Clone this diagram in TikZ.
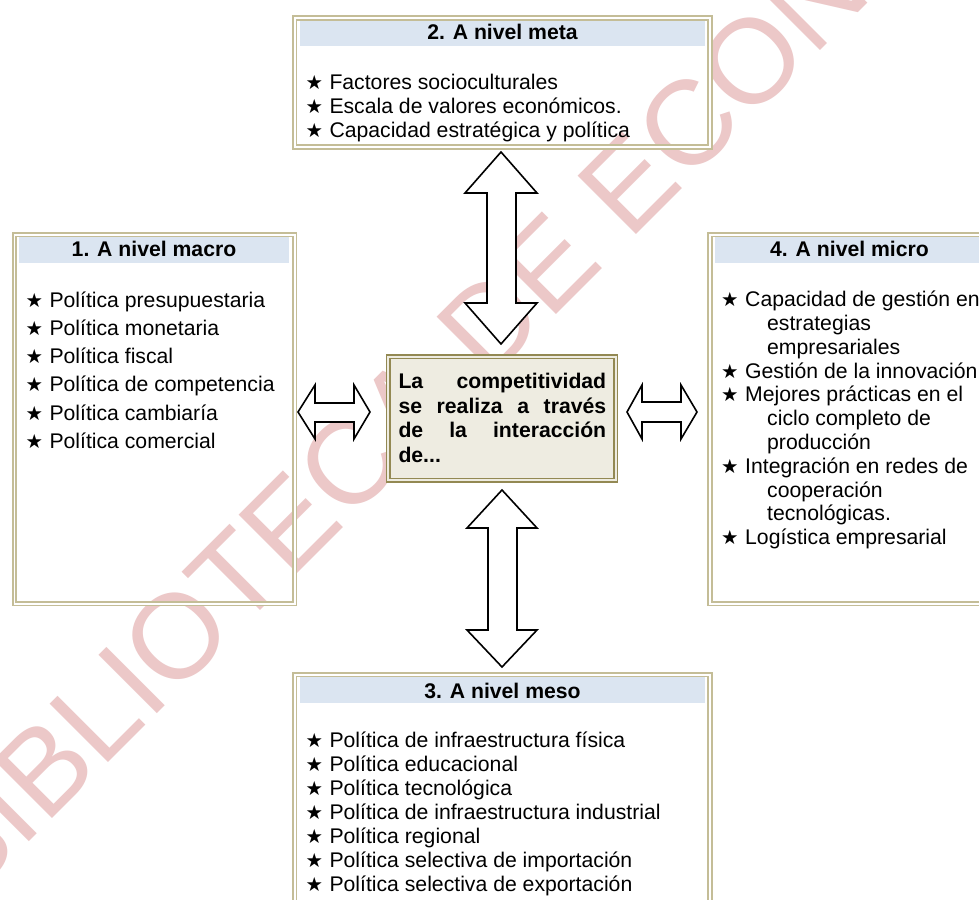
\documentclass[tikz,border=0pt]{standalone}
\usepackage{fontspec}
\setmainfont{Liberation Sans}
\newfontfamily\symfont{DejaVu Sans}
\definecolor{tanline}{RGB}{196,189,151}
\definecolor{bandblue}{RGB}{219,229,241}
\definecolor{oliveline}{RGB}{147,137,83}
\definecolor{cfill}{RGB}{238,236,225}
\definecolor{wmpink}{RGB}{236,200,200}
\newcommand\itemfont{\fontsize{21.2}{24}\selectfont}
\newcommand\ttlfont{\fontsize{21.2}{24}\selectfont\bfseries}
\newcommand\starfont{\symfont\fontsize{19.5}{19.5}\selectfont}
\newcommand\wmfont{\fontsize{120}{120}\selectfont}
\begin{document}
\begin{tikzpicture}[x=1pt,y=-1pt,
  dbox/.style={draw=tanline, double=white, double distance=1.9pt, line width=1.6pt,
    inner sep=0pt, outer sep=0pt, anchor=north west, rectangle},
  cbox/.style={draw=oliveline, double=cfill, double distance=1.9pt, line width=1.7pt,
    fill=cfill, inner sep=0pt, outer sep=0pt, anchor=north west, rectangle},
  band/.style={fill=bandblue, draw=none, inner sep=0pt, outer sep=0pt, anchor=north west, rectangle},
  ttl/.style={font=\ttlfont, inner sep=0pt, anchor=base},
  itm/.style={font=\itemfont, inner sep=0pt, anchor=base west},
  str/.style={font=\starfont, inner sep=0pt, anchor=base west},
  ctext/.style={font=\ttlfont, inner sep=0pt, anchor=base west},
  blk/.style={draw=black, fill=white, line width=1.6pt, line join=miter},
  wm/.style={font=\wmfont, text=wmpink, inner sep=0pt, anchor=base west, rotate=45}
]
\useasboundingbox (0,0) rectangle (979,899);
\fill[white] (0,0) rectangle (979,899);

% watermark
\node[wm] (wmark) at (-35,906) {BIBLIOTECA DE ECONOMÍA};

% ---- box 2: meta
\node[dbox, minimum width=415.3pt, minimum height=129pt] (meta) at (294.7,18) {};
\node[band, minimum width=405pt, minimum height=25.5pt] (metaband) at (300,20.6) {};
\node[ttl] (metattl) at (502.5,40) {2. A nivel meta};
\foreach \t [count=\i] in {Factores socioculturales, Escala de valores económicos., Capacidad estratégica y política} {
  \node[str] (metas\i) at (305.5,{89.3+24*(\i-1)}) {★};
  \node[itm] (metai\i) at (329.3,{89.3+24*(\i-1)}) {\t};
}

% ---- box 1: macro
\node[dbox, minimum width=280.2pt, minimum height=369.1pt] (macro) at (14.5,234.7) {};
\node[band, minimum width=270pt, minimum height=25.5pt] (macroband) at (19,237.3) {};
\node[ttl] (macrottl) at (154,256) {1. A nivel macro};
\foreach \t [count=\i] in {Política presupuestaria, Política monetaria, Política fiscal, Política de competencia, Política cambiaría, Política comercial} {
  \node[str] (macros\i) at (25.5,{307.3+28.2*(\i-1)}) {★};
  \node[itm] (macroi\i) at (49.3,{307.3+28.2*(\i-1)}) {\t};
}

% ---- box 4: micro
\node[dbox, minimum width=280.2pt, minimum height=369.1pt] (micro) at (710,234.7) {};
\node[band, minimum width=270pt, minimum height=25.5pt] (microband) at (714.5,237.3) {};
\node[ttl] (microttl) at (849.5,256) {4. A nivel micro};
\node[str] (micros1) at (721,306.7) {★};
\node[itm] (microi1) at (745,306.7) {Capacidad de gestión en};
\node[itm] (microi2) at (767,330.5) {estrategias};
\node[itm] (microi3) at (767,354.3) {empresariales};
\node[str] (micros4) at (721,378.1) {★};
\node[itm] (microi4) at (745,378.1) {Gestión de la innovación};
\node[str] (micros5) at (721,401.9) {★};
\node[itm] (microi5) at (745,401.9) {Mejores prácticas en el};
\node[itm] (microi6) at (767,425.7) {ciclo completo de};
\node[itm] (microi7) at (767,449.5) {producción};
\node[str] (micros8) at (721,473.3) {★};
\node[itm] (microi8) at (745,473.3) {Integración en redes de};
\node[itm] (microi9) at (767,497.1) {cooperación};
\node[itm] (microi10) at (767,520.9) {tecnológicas.};
\node[str] (micros11) at (721,544.7) {★};
\node[itm] (microi11) at (745,544.7) {Logística empresarial};

% ---- box 3: meso
\node[dbox, minimum width=415.3pt, minimum height=300pt] (meso) at (294.7,674.7) {};
\node[band, minimum width=405pt, minimum height=25.5pt] (mesoband) at (300,677.3) {};
\node[ttl] (mesottl) at (502.5,698.3) {3. A nivel meso};
\foreach \t [count=\i] in {Política de infraestructura física, Política educacional, Política tecnológica, Política de infraestructura industrial, Política regional, Política selectiva de importación, Política selectiva de exportación} {
  \node[str] (mesos\i) at (305.5,{747.3+24.07*(\i-1)}) {★};
  \node[itm] (mesoi\i) at (329.3,{747.3+24.07*(\i-1)}) {\t};
}

% ---- arrows
\draw[blk] (501,152) -- (537,193) -- (516,193) -- (516,303) -- (537,303) -- (501,344)
  -- (465,303) -- (487,303) -- (487,193) -- (465,193) -- cycle;
\draw[blk] (502,490) -- (537,528) -- (517,528) -- (517,630) -- (537,630) -- (502,667)
  -- (467,630) -- (488,630) -- (488,528) -- (467,528) -- cycle;
\draw[blk] (298,412) -- (315,385) -- (315,403) -- (354,403) -- (354,385) -- (370,412)
  -- (354,439) -- (354,422) -- (315,422) -- (315,439) -- cycle;
\draw[blk] (627,412) -- (642,385) -- (642,402) -- (681,402) -- (681,385) -- (697,412)
  -- (681,439) -- (681,422) -- (642,422) -- (642,439) -- cycle;

% ---- central box
\node[cbox, minimum width=227.5pt, minimum height=123.6pt] (centre) at (388.3,356.7) {};
\node[ctext] (c1) at (398.3,388.3) {\makebox[207.7pt][s]{La competitividad}};
\node[ctext] (c2) at (398.3,413) {\makebox[207.7pt][s]{se realiza a través}};
\node[ctext] (c3) at (398.3,437.7) {\makebox[207.7pt][s]{de la interacción}};
\node[ctext] (c4) at (398.3,462.3) {de...};
\end{tikzpicture}
\end{document}
